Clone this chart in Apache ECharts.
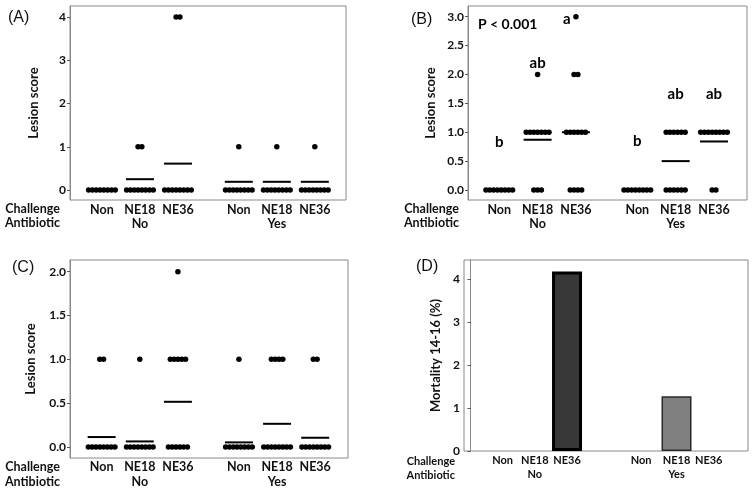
<!DOCTYPE html>
<html><head><meta charset="utf-8">
<script src="https://cdn.jsdelivr.net/npm/echarts@6/dist/echarts.min.js"></script>
<style>html,body{margin:0;padding:0;background:#fff}#c{width:756px;height:491px}</style>
</head><body><div id="c"></div>
<script>
// ---- data ----
const categories = ['Non', 'NE18', 'NE36', 'Non', 'NE18', 'NE36'];
const antibioticGroups = ['No', 'Yes'];
const yTicksA = [0, 1, 2, 3, 4];
const yTicksB = [0, 0.5, 1, 1.5, 2, 2.5, 3];
const yTicksC = [0, 0.5, 1, 1.5, 2];
const yTicksD = [0, 1, 2, 3, 4];

// Panel A lesion scores (visible dots) per group
const scoresA = [
  [0,0,0,0,0,0,0,0],
  [1,1,0,0,0,0,0,0,0,0],
  [4,4,0,0,0,0,0,0,0,0],
  [1,0,0,0,0,0,0,0,0],
  [1,0,0,0,0,0,0,0,0],
  [1,0,0,0,0,0,0,0,0]
];
const meansA = [0, 0.25, 0.61, 0.19, 0.19, 0.19];

// Panel B
const scoresB = [
  [0,0,0,0,0,0,0,0],
  [2,1,1,1,1,1,1,1,0,0,0],
  [3,2,2,1,1,1,1,1,1,0,0,0,0],
  [0,0,0,0,0,0,0,0],
  [1,1,1,1,1,1,0,0,0,0,0,0],
  [1,1,1,1,1,1,1,1,0,0]
];
const meansB = [0, 0.87, 1.0, 0, 0.5, 0.84];
const lettersB = ['b', 'ab', 'a', 'b', 'ab', 'ab'];
const letterYB = [0.83, 2.2, 2.96, 0.85, 1.66, 1.66];

// Panel C
const scoresC = [
  [1,1,0,0,0,0,0,0,0,0],
  [1,0,0,0,0,0,0,0,0],
  [2,1,1,1,1,1,0,0,0,0,0,0],
  [1,0,0,0,0,0,0,0,0],
  [1,1,1,1,0,0,0,0,0,0,0,0],
  [1,1,0,0,0,0,0,0,0,0]
];
const meansC = [0.114, 0.064, 0.516, 0.053, 0.265, 0.106];

// Panel D mortality (%)
const mortalityD = [0, 0, 4.17, 0, 1.27, 0];

// ---- layout ----
const xPos = [1, 2, 3, 4.6, 5.6, 6.6];
const xPosD = [1, 2, 3, 5.3, 6.4, 7.4];
const groupMid = [2, 5.6];
const groupMidD = [2, 6.4];
const FONT = 'Lato';
const DOT = 5.5, SPACING = 3.8;

function dotData(scores, pos) {
  const out = [];
  scores.forEach((arr, gi) => {
    const counts = {};
    arr.forEach(v => counts[v] = (counts[v] || 0) + 1);
    Object.keys(counts).forEach(k => {
      const v = Number(k), n = counts[k];
      for (let i = 0; i < n; i++) {
        out.push({ value: [pos[gi], v], symbolOffset: [(i - (n - 1) / 2) * SPACING, 0] });
      }
    });
  });
  return out;
}
function meanData(means, pos) { return means.map((m, i) => [pos[i], m]); }

const grids = [
  { left: 70, top: 6, width: 276, height: 194 },
  { left: 468, top: 6, width: 279, height: 194 },
  { left: 70, top: 260, width: 278, height: 198 },
  { left: 464, top: 260, width: 284, height: 191 }
].map(g => Object.assign(g, { show: true, borderColor: '#8a8a8a', borderWidth: 1, backgroundColor: '#fff' }));

const xRanges = [[0.16, 7.42], [0.185, 7.46], [0.17, 7.46], [-0.2, 8.62]];
const yRanges = [[-0.231, 4.254], [-0.173, 3.185], [-0.125, 2.133], [0, 4.44]];
const yTicks = [yTicksA, yTicksB, yTicksC, yTicksD];
const yDec = [0, 1, 1, 0];
const yNames = ['Lesion score', 'Lesion score', 'Lesion score', 'Mortality 14-16 (%)'];
const yGaps = [30, 31, 33, 22];
const lblMargin = [3, 3, 2, 4];
const lblSize = [12.5, 12.5, 12.5, 11];
const row2Off = [14, 14, 15, 14];

const xAxes = [], yAxes = [];
for (let k = 0; k < 4; k++) {
  const pos = k === 3 ? xPosD : xPos;
  const mids = k === 3 ? groupMidD : groupMid;
  xAxes.push({
    type: 'value', gridIndex: k, min: xRanges[k][0], max: xRanges[k][1],
    axisLine: { show: false }, axisTick: { show: false }, splitLine: { show: false },
    axisLabel: {
      customValues: pos, margin: lblMargin[k], color: '#111', fontFamily: FONT, fontWeight: 'bold', fontSize: lblSize[k],
      formatter: v => { const i = pos.findIndex(p => Math.abs(p - v) < 1e-6); return i >= 0 ? categories[i] : ''; }
    }
  });
  xAxes.push({
    type: 'value', gridIndex: k, min: xRanges[k][0], max: xRanges[k][1], position: 'bottom', offset: row2Off[k],
    axisLine: { show: false }, axisTick: { show: false }, splitLine: { show: false },
    axisLabel: {
      customValues: mids, margin: lblMargin[k], color: '#111', fontFamily: FONT, fontWeight: 'bold', fontSize: lblSize[k],
      formatter: v => { const i = mids.findIndex(p => Math.abs(p - v) < 1e-6); return i >= 0 ? antibioticGroups[i] : ''; }
    }
  });
  yAxes.push({
    type: 'value', gridIndex: k, min: yRanges[k][0], max: yRanges[k][1],
    name: yNames[k], nameLocation: 'middle', nameGap: yGaps[k],
    nameTextStyle: { fontFamily: FONT, fontWeight: 'bold', fontSize: 13, color: '#111' },
    axisLine: { show: true, lineStyle: { color: '#8a8a8a' } },
    axisTick: { show: true, length: 3, customValues: yTicks[k], lineStyle: { color: '#555' } },
    splitLine: { show: false },
    axisLabel: { customValues: yTicks[k], margin: 4, color: '#111', fontFamily: FONT, fontWeight: 'bold', fontSize: 12,
      formatter: v => Number(v).toFixed(yDec[k]) }
  });
}

const series = [];
[[scoresA, meansA], [scoresB, meansB], [scoresC, meansC]].forEach(([sc, mn], k) => {
  series.push({ type: 'scatter', xAxisIndex: 2 * k, yAxisIndex: k, symbol: 'circle', symbolSize: DOT,
    itemStyle: { color: '#000', opacity: 1 }, data: dotData(sc, xPos), silent: true });
  series.push({ type: 'scatter', xAxisIndex: 2 * k, yAxisIndex: k, symbol: 'rect', symbolSize: [28, 2],
    itemStyle: { color: '#000', opacity: 1 }, data: meanData(mn, xPos), silent: true });
});
// letters in panel B
const letterX = [1, 2, 2.76, 4.6, 5.6, 6.6];
series.push({ type: 'scatter', xAxisIndex: 2, yAxisIndex: 1, symbolSize: 0, silent: true,
  itemStyle: { opacity: 1 },
  data: lettersB.map((t, i) => ({ name: t, value: [letterX[i], letterYB[i]] })),
  label: { show: true, position: 'inside', formatter: p => p.name, color: '#000', fontFamily: FONT, fontWeight: 'bold', fontSize: 15 } });
// bars in panel D
const barStyles = [null, null, { color: '#383838', borderColor: '#000', borderWidth: 3 }, null,
  { color: '#808080', borderColor: '#2a2a2a', borderWidth: 1.5 }, null];
series.push({ type: 'bar', xAxisIndex: 6, yAxisIndex: 3, barWidth: 30, silent: true,
  data: mortalityD.map((v, i) => ({ value: [xPosD[i], v], itemStyle: barStyles[i] || { color: 'transparent', borderWidth: 0 } })) });

const txt = (x, y, t, o) => ({ type: 'text', x: x, y: y, silent: true,
  style: Object.assign({ text: t, fill: '#111', font: 'bold 12.5px ' + FONT, textAlign: 'right', textVerticalAlign: 'middle' }, o || {}) });
const graphic = [
  txt(8, 18, '(A)', { textAlign: 'left', font: '16px "Liberation Sans"' }),
  txt(411, 20, '(B)', { textAlign: 'left', font: '16px "Liberation Sans"' }),
  txt(12, 268, '(C)', { textAlign: 'left', font: '16px "Liberation Sans"' }),
  txt(416, 267, '(D)', { textAlign: 'left', font: '16px "Liberation Sans"' }),
  txt(60, 209, 'Challenge'), txt(60, 223, 'Antibiotic'),
  txt(459, 209, 'Challenge'), txt(459, 223, 'Antibiotic'),
  txt(60, 467, 'Challenge'), txt(60, 482, 'Antibiotic'),
  txt(455, 461, 'Challenge', { font: 'bold 11px ' + FONT }), txt(455, 475, 'Antibiotic', { font: 'bold 11px ' + FONT }),
  txt(478, 24, 'P < 0.001', { textAlign: 'left', font: 'bold 14px ' + FONT, fill: '#000' })
];

const chart = echarts.init(document.getElementById('c'), null, { renderer: 'canvas' });
chart.setOption({ animation: false, backgroundColor: '#fff', grid: grids, xAxis: xAxes, yAxis: yAxes, series: series, graphic: graphic });
</script></body></html>
